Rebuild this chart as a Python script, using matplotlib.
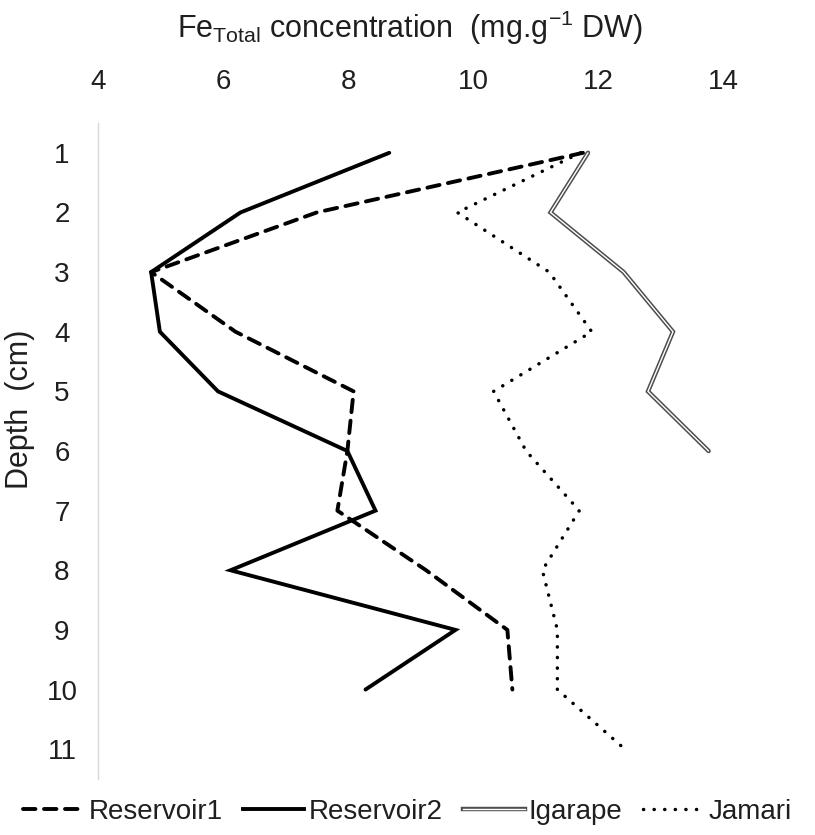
import numpy as np
import matplotlib
matplotlib.use("Agg")
import matplotlib.pyplot as plt
from matplotlib.lines import Line2D
import matplotlib.patheffects as pe

# Fe total concentration profiles by sediment depth
depth_r1 = [1, 2, 3, 4, 5, 6, 7, 8, 9, 10]
reservoir1 = [11.76, 7.5, 4.85, 6.2, 8.09, 7.99, 7.83, 9.25, 10.55, 10.63]

depth_r2 = [1, 2, 3, 4, 5, 6, 7, 8, 9, 10]
reservoir2 = [8.66, 6.28, 4.85, 4.99, 5.92, 7.99, 8.44, 6.12, 9.72, 8.28]

depth_ig = [1, 2, 3, 4, 5, 6]
igarape = [11.84, 11.24, 12.41, 13.2, 12.8, 13.77]

depth_ja = [1, 2, 3, 4, 5, 6, 7, 8, 9, 10, 11]
jamari = [11.72, 9.75, 11.22, 11.9, 10.33, 10.85, 11.7, 11.11, 11.35, 11.35, 12.43]

x_ticks = [4, 6, 8, 10, 12, 14]
depth_ticks = list(range(1, 12))

plt.rcParams["font.family"] = ["Liberation Sans", "DejaVu Sans"]
plt.rcParams["mathtext.fontset"] = "custom"
plt.rcParams["mathtext.rm"] = "Liberation Sans"
plt.rcParams["mathtext.default"] = "regular"

TXT = "#1f1f1f"
FS = 20

fig = plt.figure(figsize=(8.15, 8.35), dpi=100)
ax = fig.add_axes([98 / 815, 1 - 779 / 835, 625 / 815, 656 / 835])

ax.set_xlim(4, 14)
ax.set_ylim(11.5, 0.5)

lw = 2.8
dash_r1 = (0, (3.2, 2.2))
dot_ja = (0, (0.05, 3.0))
double_fx = [pe.Stroke(linewidth=3.2, foreground="#4d4d4d"), pe.Normal()]

ax.plot(reservoir1, depth_r1, color="black", lw=lw, linestyle=dash_r1,
        dash_capstyle="round", dash_joinstyle="round")
ax.plot(reservoir2, depth_r2, color="black", lw=lw,
        solid_joinstyle="miter", solid_capstyle="round")
ax.plot(igarape, depth_ig, color="white", lw=1.0,
        solid_capstyle="round", solid_joinstyle="miter",
        path_effects=double_fx)
ax.plot(jamari, depth_ja, color="black", lw=2.5, linestyle=dot_ja,
        dash_capstyle="round")

for side in ["top", "right", "bottom"]:
    ax.spines[side].set_visible(False)
ax.spines["left"].set_color("#d9d9d9")
ax.spines["left"].set_linewidth(1.0)

ax.xaxis.tick_top()
ax.set_xticks(x_ticks)
ax.set_xticklabels([str(v) for v in x_ticks])
ax.set_yticks(depth_ticks)
ax.set_yticklabels([str(v) for v in depth_ticks])
ax.tick_params(axis="x", length=0, pad=20, labelsize=FS, labelcolor=TXT)
ax.tick_params(axis="y", length=0, pad=26, labelsize=FS, labelcolor=TXT)
for t in ax.get_yticklabels():
    t.set_horizontalalignment("center")

fig.text(410 / 815, 1 - 28 / 835,
         r"Fe$_{Total}$ concentration  (mg.g$^{-1}$ DW)",
         ha="center", va="center", fontsize=22, color=TXT)
fig.text(20 / 815, 1 - 409 / 835, "Depth  (cm)", rotation=90,
         ha="center", va="center", fontsize=22, color=TXT)

h_r1 = Line2D([], [], color="black", lw=lw, linestyle=dash_r1,
              dash_capstyle="round")
h_r2 = Line2D([], [], color="black", lw=lw)
h_ig = Line2D([], [], color="white", lw=1.0, path_effects=double_fx)
h_ja = Line2D([], [], color="black", lw=2.5, linestyle=dot_ja,
              dash_capstyle="round")

leg = fig.legend([h_r1, h_r2, h_ig, h_ja],
                 ["Reservoir1", "Reservoir2", "Igarape", "Jamari"],
                 loc="center", bbox_to_anchor=(0.5, 1 - 812 / 835),
                 ncol=4, frameon=False, fontsize=FS,
                 handlelength=2.2, handletextpad=0.15, columnspacing=0.75,
                 borderaxespad=0)
for t in leg.get_texts():
    t.set_color(TXT)

fig.savefig("out.png", dpi=100)
